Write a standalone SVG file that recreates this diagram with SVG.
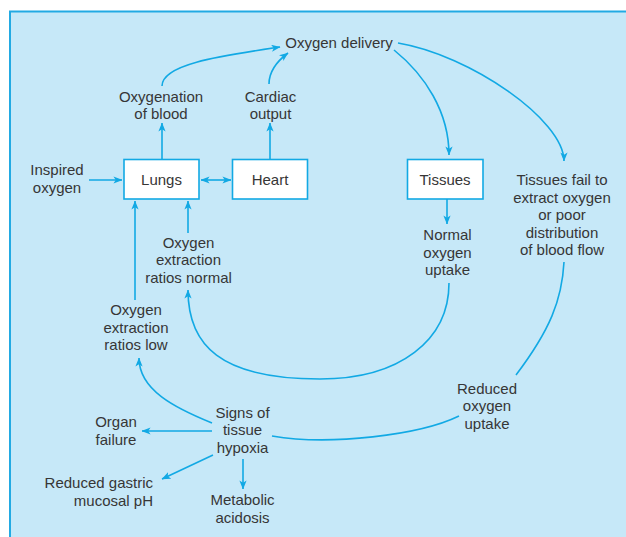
<svg xmlns="http://www.w3.org/2000/svg" width="626" height="537" viewBox="0 0 626 537">
<defs>
<style>
.t{font-family:"Liberation Sans",Arial,sans-serif;font-size:15px;fill:#363636;text-anchor:middle}
.c{fill:none;stroke:#12a9e4;stroke-width:1.6}
.a{marker-end:url(#ah)}
.box{fill:#ffffff;stroke:#12a9e4;stroke-width:1.6}
</style>
<marker id="ah" viewBox="0 0 10 8" refX="9.5" refY="4" markerWidth="9" markerHeight="7.2" markerUnits="userSpaceOnUse" orient="auto-start-reverse">
<path d="M0,0 L10,4 L0,8 L2.5,4 z" fill="#12a9e4"/>
</marker>
</defs>
<rect x="10" y="11.5" width="640" height="560" fill="#c6e8f8" stroke="#22aae3" stroke-width="2"/>

<g id="connectors">
<path class="c a" d="M162,86 C162,64 220,56 280,47"/>
<path class="c a" d="M269,84 C269,72 276,62 288,53"/>
<path class="c a" d="M394,50 C425,75 449,112 449,155"/>
<path class="c a" d="M398,43 C470,55 564,120 564,161"/>
<path class="c a" d="M162,159 L162,123"/>
<path class="c a" d="M270,159 L270,123"/>
<path class="c a" d="M89,180 L122,180"/>
<path class="c a" d="M201,180 L231,180" style="marker-start:url(#ah)"/>
<path class="c a" d="M135,300 L135,201"/>
<path class="c a" d="M188,233 L188,201"/>
<path class="c a" d="M447,199 L447,224"/>
<path class="c a" d="M449,283 C449,340 400,379 320,379 C220,379 188,345 188,290"/>
<path class="c" d="M564,262 C562,300 550,330 516,375"/>
<path class="c" d="M459,416 C420,435 330,446 272,436"/>
<path class="c a" d="M212,423 C175,408 139,390 139,358"/>
<path class="c a" d="M212,431 L142,431"/>
<path class="c a" d="M213,455 L162,479"/>
<path class="c a" d="M243,459 L243,489"/>
</g>

<g id="oxygen-delivery"><text class="t" x="339" y="47.5">Oxygen delivery</text></g>
<g id="oxygenation"><text class="t" x="161" y="101.5">Oxygenation</text><text class="t" x="161" y="119">of blood</text></g>
<g id="cardiac-output"><text class="t" x="270.5" y="101.5">Cardiac</text><text class="t" x="270.5" y="119">output</text></g>
<g id="inspired-oxygen"><text class="t" x="57" y="175">Inspired</text><text class="t" x="57" y="192.5">oxygen</text></g>
<g id="lungs"><rect class="box" x="124" y="159.5" width="75" height="39.5"/><text class="t" x="161.5" y="185">Lungs</text></g>
<g id="heart"><rect class="box" x="232.5" y="159.5" width="75" height="39.5"/><text class="t" x="270" y="185">Heart</text></g>
<g id="tissues"><rect class="box" x="407.5" y="159.5" width="75.5" height="39.5"/><text class="t" x="445" y="185">Tissues</text></g>
<g id="tissues-fail"><text class="t" x="562" y="184.5">Tissues fail to</text><text class="t" x="562" y="202.5">extract oxygen</text><text class="t" x="562" y="220">or poor</text><text class="t" x="562" y="237.5">distribution</text><text class="t" x="562" y="254.5">of blood flow</text></g>
<g id="normal-uptake"><text class="t" x="447.5" y="240">Normal</text><text class="t" x="447.5" y="257.5">oxygen</text><text class="t" x="447.5" y="274.5">uptake</text></g>
<g id="ratios-normal"><text class="t" x="188.5" y="247.5">Oxygen</text><text class="t" x="188.5" y="265">extraction</text><text class="t" x="188.5" y="282.5">ratios normal</text></g>
<g id="ratios-low"><text class="t" x="136" y="315">Oxygen</text><text class="t" x="136" y="332.5">extraction</text><text class="t" x="136" y="349.5">ratios low</text></g>
<g id="reduced-uptake"><text class="t" x="487" y="393.5">Reduced</text><text class="t" x="487" y="411">oxygen</text><text class="t" x="487" y="428.5">uptake</text></g>
<g id="hypoxia"><text class="t" x="242.5" y="417.5">Signs of</text><text class="t" x="242.5" y="435">tissue</text><text class="t" x="242.5" y="452.5">hypoxia</text></g>
<g id="organ-failure"><text class="t" x="116" y="427">Organ</text><text class="t" x="116" y="444.5">failure</text></g>
<g id="gastric"><text class="t" x="153" y="488" style="text-anchor:end">Reduced gastric</text><text class="t" x="153" y="506" style="text-anchor:end">mucosal pH</text></g>
<g id="metabolic"><text class="t" x="242.5" y="505">Metabolic</text><text class="t" x="242.5" y="522.5">acidosis</text></g>
</svg>
